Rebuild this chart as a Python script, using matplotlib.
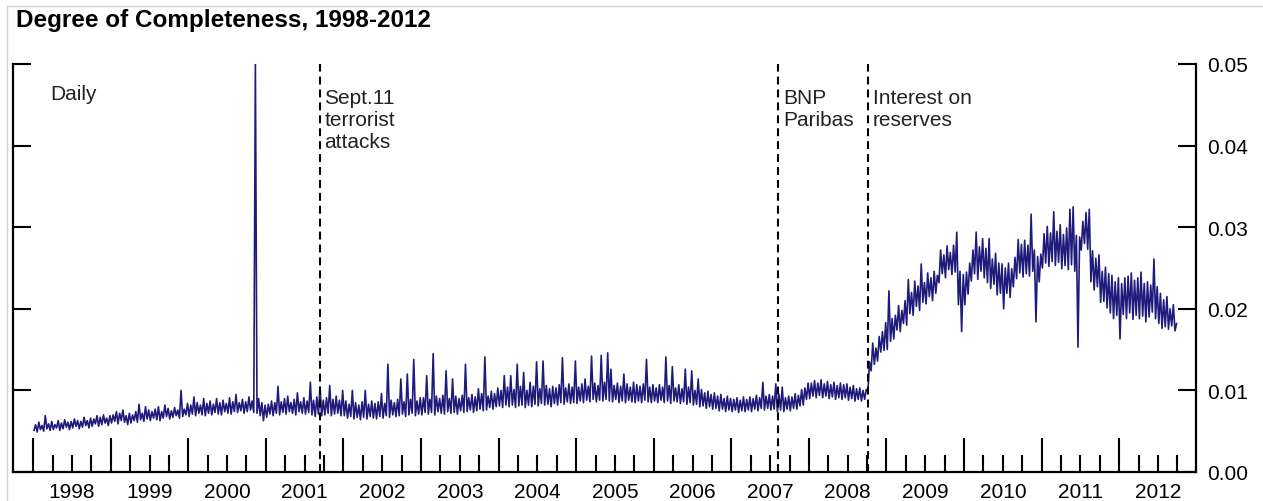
import numpy as np
import matplotlib
matplotlib.use("Agg")
import matplotlib.pyplot as plt
from matplotlib.ticker import FixedLocator, FixedFormatter, NullFormatter
from matplotlib.lines import Line2D

# Degree of completeness, daily series summarised per half-month:
# trough (lo) and peak (hi) of each half-month, units of 1e-3.
lo1998 = [5.1, 4.9, 5.2, 5.0, 5.3, 5.1, 5.2, 5.4, 5.1, 5.3, 5.5, 5.2,
          5.4, 5.6, 5.3, 5.5, 5.7, 5.4, 5.6, 5.9, 5.6, 5.8, 6.0, 5.7]
hi1998 = [5.8, 6.1, 5.7, 6.9, 5.9, 6.2, 5.8, 6.3, 6.0, 6.4, 6.1, 6.2,
          6.5, 6.3, 6.2, 6.7, 6.3, 6.6, 6.5, 6.9, 6.7, 7.0, 6.6, 6.9]
lo1999 = [6.0, 6.2, 5.9, 6.3, 6.1, 5.8, 6.0, 6.3, 6.1, 6.4, 6.2, 6.5,
          6.3, 6.6, 6.4, 6.3, 6.6, 6.8, 6.5, 6.7, 6.9, 6.6, 6.8, 7.0]
hi1999 = [7.0, 7.4, 7.2, 7.6, 6.9, 7.2, 7.0, 7.4, 8.3, 7.2, 8.0, 7.6,
          7.4, 7.7, 8.0, 7.4, 8.2, 7.8, 7.5, 7.9, 7.6, 10.0, 7.7, 8.4]
lo2000 = [6.8, 7.1, 6.9, 7.2, 7.0, 6.9, 7.2, 7.0, 7.3, 7.1, 7.0, 7.4,
          7.2, 7.1, 7.4, 7.3, 7.5, 7.2, 7.4, 7.6, 7.3, 7.2, 6.9, 6.3]
hi2000 = [8.2, 9.2, 8.5, 8.2, 9.0, 8.4, 8.7, 8.3, 9.0, 8.5, 8.8, 8.4,
          9.1, 8.6, 9.5, 8.5, 8.9, 8.6, 9.2, 8.7, 50.0, 9.0, 8.5, 8.2]
lo2001 = [6.7, 7.1, 6.9, 7.2, 7.0, 7.3, 7.1, 7.4, 7.2, 7.0, 7.4, 7.2,
          7.1, 7.3, 7.0, 6.8, 7.1, 6.9, 7.0, 7.2, 6.9, 7.1, 7.2, 6.9]
hi2001 = [8.3, 8.7, 8.5, 10.5, 8.6, 9.0, 9.3, 8.5, 8.9, 9.7, 8.6, 9.1,
          8.7, 11.0, 8.8, 9.2, 10.4, 8.8, 9.1, 10.6, 8.9, 9.3, 8.8, 10.0]
lo2002 = [6.9, 6.6, 6.8, 6.5, 6.7, 6.4, 6.7, 6.5, 6.8, 6.6, 6.5, 6.8,
          6.6, 6.9, 6.7, 7.0, 6.8, 6.9, 7.1, 6.8, 7.0, 7.2, 6.9, 7.1]
hi2002 = [8.7, 8.3, 10.0, 8.5, 8.2, 8.6, 10.0, 8.3, 8.7, 8.4, 8.6, 9.6,
          8.4, 13.2, 8.8, 8.5, 8.9, 11.4, 8.6, 12.0, 8.9, 13.8, 8.7, 9.1]
lo2003 = [7.0, 7.3, 7.1, 7.3, 7.0, 7.4, 7.2, 7.1, 7.4, 7.2, 7.3, 7.1,
          7.5, 7.3, 7.4, 7.6, 7.3, 7.5, 7.7, 7.5, 7.6, 7.9, 7.7, 8.0]
hi2003 = [9.1, 11.8, 8.9, 14.5, 9.3, 9.0, 9.4, 12.4, 9.0, 11.4, 9.3, 9.0,
          9.4, 13.2, 9.1, 9.5, 9.2, 10.2, 9.6, 14.1, 9.3, 9.9, 9.6, 10.3]
lo2004 = [8.1, 7.9, 8.2, 8.0, 8.2, 7.9, 8.1, 8.2, 7.9, 8.2, 8.0, 8.3,
          8.1, 8.4, 8.2, 8.3, 8.0, 8.4, 8.2, 8.5, 8.3, 8.6, 8.4, 8.5]
hi2004 = [10.0, 11.8, 10.4, 11.8, 10.1, 13.2, 10.5, 12.2, 10.0, 11.0, 10.5, 13.5,
          10.2, 13.6, 10.6, 10.2, 10.5, 10.3, 10.7, 14.0, 10.3, 10.8, 10.4, 13.6]
lo2005 = [8.4, 8.7, 8.5, 8.8, 8.6, 8.9, 8.6, 8.8, 8.7, 8.9, 8.7, 8.6,
          8.9, 8.5, 8.7, 8.5, 8.8, 8.6, 8.5, 8.7, 8.5, 8.8, 8.6, 8.5]
hi2005 = [10.4, 10.8, 11.4, 10.5, 14.2, 10.9, 10.6, 14.3, 11.0, 14.6, 12.6, 10.6,
          10.9, 10.5, 12.0, 10.8, 10.4, 11.0, 10.7, 10.5, 10.8, 13.8, 10.4, 10.7]
lo2006 = [8.7, 8.5, 8.8, 8.5, 8.7, 8.4, 8.7, 8.6, 8.4, 8.6, 8.3, 8.5,
          8.2, 8.3, 8.0, 8.1, 7.8, 8.0, 7.7, 7.8, 7.5, 7.7, 7.4, 7.6]
hi2006 = [10.3, 10.7, 10.4, 14.1, 10.6, 12.9, 10.3, 10.7, 10.2, 12.6, 10.4, 12.4,
          10.0, 11.4, 10.1, 9.7, 9.9, 9.5, 9.7, 9.3, 9.5, 9.0, 9.3, 9.0]
lo2007 = [7.4, 7.6, 7.3, 7.5, 7.4, 7.6, 7.4, 7.7, 7.5, 7.8, 7.6, 7.8,
          7.6, 7.7, 7.4, 7.6, 7.4, 7.7, 7.5, 7.8, 7.7, 8.1, 8.2, 8.9]
hi2007 = [8.9, 9.1, 8.8, 9.2, 8.9, 9.2, 9.0, 9.4, 9.1, 11.0, 9.3, 9.5,
          9.3, 10.8, 9.5, 10.4, 9.1, 9.3, 9.2, 9.6, 9.4, 10.1, 10.3, 10.9]
lo2008 = [9.0, 9.3, 9.1, 9.4, 9.1, 9.3, 9.0, 9.2, 8.9, 9.1, 8.9, 9.1,
          8.8, 9.0, 8.7, 8.9, 8.7, 8.9, 9.8, 12.4, 13.2, 13.6, 14.7, 14.9]
hi2008 = [10.9, 11.2, 10.9, 11.3, 10.8, 11.1, 10.7, 11.0, 10.6, 10.9, 10.7, 10.8,
          10.4, 10.6, 10.2, 10.3, 10.0, 10.1, 13.5, 15.8, 15.2, 16.6, 17.2, 18.3]
lo2009 = [15.0, 16.0, 16.3, 17.4, 17.2, 18.2, 18.0, 19.4, 19.2, 20.3, 19.8, 20.8,
          20.6, 21.5, 21.0, 21.9, 23.2, 24.3, 23.8, 24.8, 24.2, 24.5, 20.5, 17.2]
hi2009 = [22.2, 18.8, 19.2, 20.4, 19.8, 21.0, 23.6, 22.0, 23.4, 22.8, 25.5, 23.2,
          24.4, 23.8, 24.6, 24.1, 27.2, 26.6, 27.7, 26.9, 27.8, 29.4, 24.6, 24.2]
lo2010 = [20.5, 21.8, 23.4, 24.3, 23.6, 24.6, 23.8, 23.2, 22.5, 23.0, 21.7, 21.9,
          20.0, 21.9, 21.4, 22.7, 23.7, 24.4, 23.9, 24.3, 24.0, 24.6, 18.4, 23.3]
hi2010 = [24.5, 25.6, 27.2, 29.4, 27.6, 28.6, 27.4, 28.6, 26.1, 26.8, 25.6, 25.5,
          25.0, 25.6, 24.9, 26.3, 28.5, 27.9, 28.4, 27.8, 31.6, 27.2, 26.4, 26.7]
lo2011 = [25.0, 25.6, 25.2, 25.8, 25.3, 25.7, 24.9, 25.3, 24.8, 25.4, 24.6, 15.3,
          27.2, 28.0, 27.3, 23.3, 22.3, 22.7, 20.8, 20.9, 20.1, 19.5, 18.8, 19.2]
hi2011 = [29.2, 30.1, 29.3, 31.9, 29.5, 30.3, 29.1, 29.9, 32.2, 32.5, 29.0, 28.8,
          30.7, 31.8, 32.2, 27.1, 26.2, 26.6, 24.6, 25.1, 24.3, 24.1, 23.3, 23.8]
lo2012 = [16.3, 19.3, 18.8, 19.5, 18.7, 19.2, 18.8, 19.1, 18.4, 19.0, 19.6, 18.8,
          18.2, 17.6, 17.8, 17.5, 17.9, 17.3]
hi2012 = [23.1, 23.8, 24.0, 24.4, 23.5, 23.8, 24.5, 23.1, 23.3, 22.9, 26.1, 22.7,
          21.9, 21.1, 21.5, 20.0, 20.5, 18.2]

years = list(range(1998, 2013))
lows = [lo1998, lo1999, lo2000, lo2001, lo2002, lo2003, lo2004, lo2005,
        lo2006, lo2007, lo2008, lo2009, lo2010, lo2011, lo2012]
highs = [hi1998, hi1999, hi2000, hi2001, hi2002, hi2003, hi2004, hi2005,
         hi2006, hi2007, hi2008, hi2009, hi2010, hi2011, hi2012]
SCALE = 1e-3

# Events marked with dashed vertical lines (decimal year)
event_dates = [2001.693, 2007.603, 2008.76]
event_labels = ["Sept.11\nterrorist\nattacks", "BNP\nParibas", "Interest on\nreserves"]

ytick_values = [0.00, 0.01, 0.02, 0.03, 0.04, 0.05]
ytick_labels = ["0.00", "0.01", "0.02", "0.03", "0.04", "0.05"]

# ---- assemble the time axis: trough then peak within each half-month ----
t_parts, v_parts = [], []
for yr, lo, hi in zip(years, lows, highs):
    n = len(lo)
    k = np.arange(n)
    tt = np.empty(2 * n)
    vv = np.empty(2 * n)
    tt[0::2] = yr + (2 * k + 0.5) / 48.0
    tt[1::2] = yr + (2 * k + 1.5) / 48.0
    vv[0::2] = np.asarray(lo) * SCALE
    vv[1::2] = np.asarray(hi) * SCALE
    t_parts.append(tt)
    v_parts.append(vv)
t = np.concatenate(t_parts)
v = np.concatenate(v_parts)

plt.rcParams["font.family"] = ["Liberation Sans", "DejaVu Sans"]

W, H = 1263, 502
fig = plt.figure(figsize=(W / 100, H / 100), dpi=100)
ax = fig.add_axes([13 / W, 1 - 473 / H, (1196 - 13) / W, (473 - 65) / H])

ax.plot(t, v, color="#1e1b7b", lw=1.2)

for x in event_dates:
    ax.axvline(x, color="black", lw=1.5, ls=(0, (3.8, 2.4)))

ax.set_xlim(1997.74, 2012.99)
ax.set_ylim(0, 0.05)

# frame: left, right, bottom
for side in ("left", "right", "bottom"):
    ax.spines[side].set_linewidth(1.6)
    ax.spines[side].set_color("black")
ax.spines["top"].set_visible(False)

# y axis: ticks on both sides pointing inward, labels on the right
ax.yaxis.set_major_locator(FixedLocator(ytick_values))
ax.yaxis.set_major_formatter(FixedFormatter(ytick_labels))
ax.tick_params(axis="y", which="major", left=True, right=True,
               labelleft=False, labelright=True, direction="in",
               length=13, width=1.5, labelsize=15, pad=8, colors="black")
for tick in ax.yaxis.get_major_ticks():
    if abs(tick.get_loc() - 0.05) < 1e-9:
        tick.tick1line.set_markersize(26)
        tick.tick2line.set_markersize(26)

# x axis: long ticks at year boundaries, quarter ticks, labels mid-year
quarters = []
qlabels = []
for yr in years:
    for q, lab in ((0.25, ""), (0.5, str(yr)), (0.75, "")):
        quarters.append(yr + q)
        qlabels.append(lab)
ax.xaxis.set_major_locator(FixedLocator(years))
ax.xaxis.set_major_formatter(NullFormatter())
ax.xaxis.set_minor_locator(FixedLocator(quarters))
ax.xaxis.set_minor_formatter(FixedFormatter(qlabels))
ax.tick_params(axis="x", which="major", direction="in", length=24.5,
               width=1.5, top=False)
ax.tick_params(axis="x", which="minor", direction="in", length=12.2,
               width=1.5, top=False, labelsize=15, pad=7)

# annotations
ax.text(1998.22, 0.0476, "Daily", fontsize=15, va="top", ha="left",
        color="#222222")
for x, lab in zip(event_dates, event_labels):
    ax.text(x + 0.06, 0.0471, lab, fontsize=15, va="top", ha="left",
            color="#222222", linespacing=1.2)

fig.text(16 / W, 1 - 21 / H, "Degree of Completeness, 1998-2012",
         fontsize=17.5, fontweight="bold", va="center", ha="left")

# thin grey page border
fig.add_artist(Line2D([7 / W, 1], [1 - 7 / H, 1 - 7 / H], color="#d4d4d4", lw=1))
fig.add_artist(Line2D([7 / W, 7 / W], [0, 1 - 7 / H], color="#d4d4d4", lw=1))

fig.savefig("out.png", dpi=100)
